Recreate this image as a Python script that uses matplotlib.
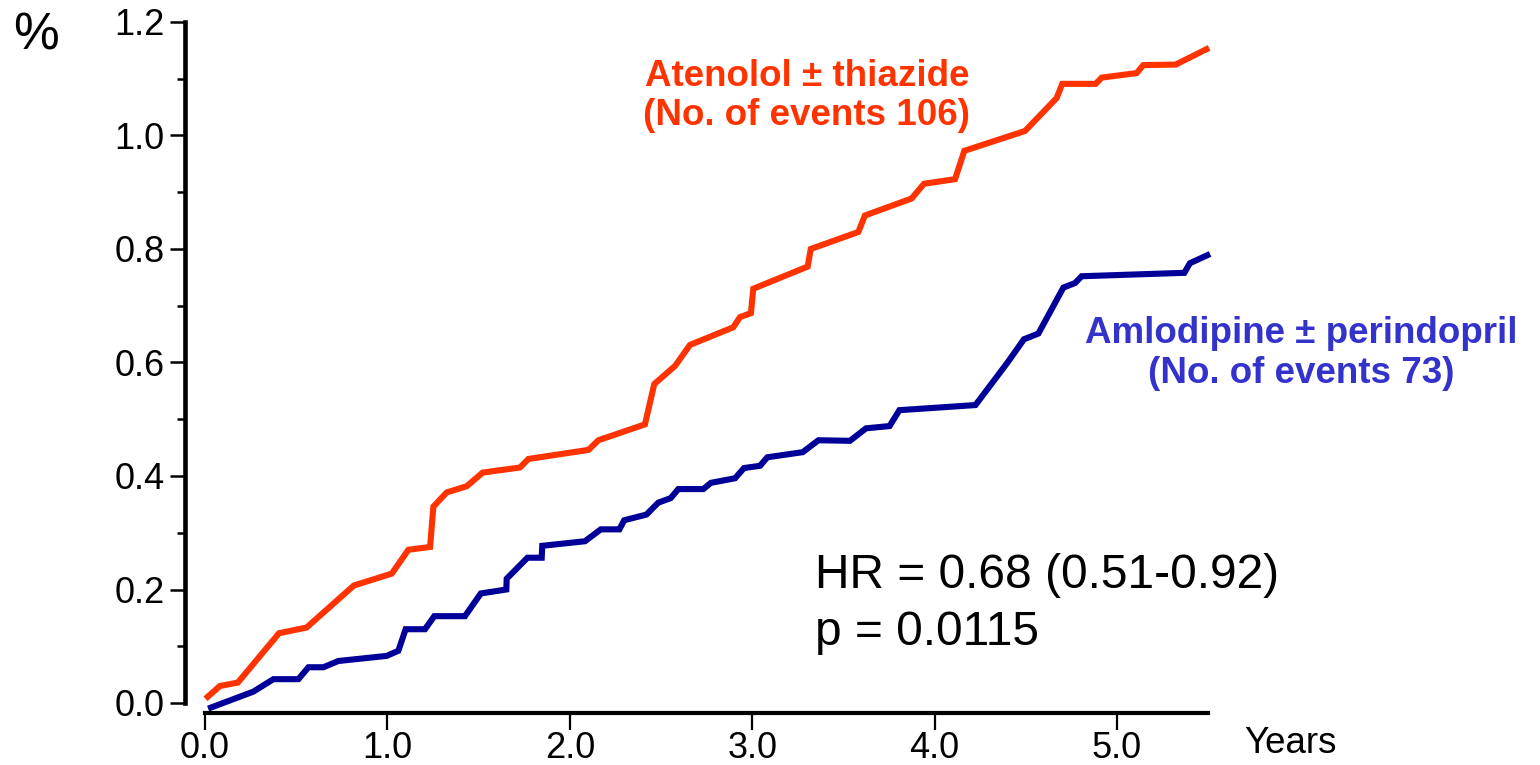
import matplotlib.pyplot as plt
from matplotlib.ticker import MultipleLocator

# cumulative incidence (%) read per treatment arm, years of follow-up
atenolol_years = [0.015, 0.082, 0.18, 0.406, 0.557, 0.816, 1.024, 1.115, 1.234, 1.252,
                  1.325, 1.435, 1.522, 1.727, 1.773, 2.102, 2.157, 2.412, 2.463, 2.577,
                  2.659, 2.896, 2.933, 2.993, 3.006, 3.304, 3.321, 3.582, 3.618, 3.874,
                  3.942, 4.112, 4.163, 4.496, 4.669, 4.70, 4.883, 4.916, 5.108, 5.144,
                  5.322, 5.49]
atenolol_pct = [0.011, 0.030, 0.036, 0.123, 0.133, 0.207, 0.228, 0.270, 0.275, 0.346,
                0.371, 0.382, 0.406, 0.415, 0.430, 0.446, 0.463, 0.491, 0.562, 0.594,
                0.631, 0.662, 0.680, 0.687, 0.730, 0.769, 0.800, 0.830, 0.859, 0.889,
                0.915, 0.923, 0.973, 1.008, 1.066, 1.091, 1.091, 1.102, 1.110, 1.124,
                1.125, 1.152]

amlodipine_years = [0.033, 0.265, 0.375, 0.512, 0.567, 0.649, 0.731, 0.996, 1.06, 1.10,
                    1.206, 1.257, 1.425, 1.512, 1.652, 1.654, 1.768, 1.846, 1.849, 2.083,
                    2.170, 2.272, 2.298, 2.420, 2.485, 2.553, 2.595, 2.732, 2.774, 2.906,
                    2.955, 3.043, 3.083, 3.277, 3.363, 3.536, 3.624, 3.753, 3.807, 4.224,
                    4.40, 4.49, 4.569, 4.706, 4.77, 4.806, 5.369, 5.40, 5.495]
amlodipine_pct = [-0.008, 0.020, 0.042, 0.042, 0.063, 0.063, 0.074, 0.083, 0.092, 0.130,
                  0.130, 0.153, 0.153, 0.193, 0.200, 0.219, 0.256, 0.256, 0.277, 0.285,
                  0.306, 0.306, 0.322, 0.332, 0.353, 0.361, 0.377, 0.377, 0.388, 0.396,
                  0.414, 0.418, 0.433, 0.442, 0.463, 0.462, 0.484, 0.488, 0.516, 0.525,
                  0.600, 0.641, 0.651, 0.732, 0.740, 0.752, 0.758, 0.775, 0.789]

x_ticks = [0.0, 1.0, 2.0, 3.0, 4.0, 5.0]
y_ticks = [0.0, 0.2, 0.4, 0.6, 0.8, 1.0, 1.2]

ORANGE = "#FF3300"
NAVY = "#000099"
BLUE_TEXT = "#3333CC"

plt.rcParams["font.family"] = ["Liberation Sans", "DejaVu Sans"]

fig = plt.figure(figsize=(15.4, 7.65), dpi=100)
ax = fig.add_axes([185 / 1540, 52 / 765, 1030 / 1540, 698 / 765])

ax.plot(atenolol_years, atenolol_pct, color=ORANGE, lw=4.4,
        solid_joinstyle="miter", clip_on=False)
ax.plot(amlodipine_years, amlodipine_pct, color=NAVY, lw=4.4,
        solid_joinstyle="miter", clip_on=False)

ax.set_xlim(-20 / 182.4, 1010 / 182.4)
ax.set_ylim(-10 / 567.5, 1.2 + 7 / 567.5)

# detached axis lines
for side in ("top", "right"):
    ax.spines[side].set_visible(False)
ax.spines["left"].set_bounds(0, 1.2)
ax.spines["bottom"].set_bounds(0, 5.5)
ax.spines["left"].set_linewidth(3.3)
ax.spines["bottom"].set_linewidth(3.0)

ax.set_xticks(x_ticks)
ax.set_xticklabels([f"{v:.1f}" for v in x_ticks])
ax.set_yticks(y_ticks)
ax.set_yticklabels([f"{v:.1f}" for v in y_ticks])
ax.yaxis.set_minor_locator(MultipleLocator(0.1))

ax.tick_params(axis="y", which="major", direction="out", length=11, width=1.8,
               labelsize=26, pad=3.5)
ax.tick_params(axis="y", which="minor", direction="out", length=6, width=1.8)
ax.tick_params(axis="x", which="major", direction="out", length=12, width=1.6,
               labelsize=26, pad=1)

ax.text(-1.05, 1.152, "%", fontsize=37, ha="left", va="baseline")
ax.text(5.70, -0.088, "Years", fontsize=26.5, ha="left", va="baseline", clip_on=False)

ax.text(3.30, 1.087, "Atenolol \u00b1 thiazide", color=ORANGE, fontsize=26.5,
        fontweight="bold", ha="center", va="baseline")
ax.text(3.30, 1.019, "(No. of events 106)", color=ORANGE, fontsize=26.5,
        fontweight="bold", ha="center", va="baseline")

ax.text(6.01, 0.634, "Amlodipine \u00b1 perindopril", color=BLUE_TEXT, fontsize=26.5,
        fontweight="bold", ha="center", va="baseline")
ax.text(6.01, 0.564, "(No. of events 73)", color=BLUE_TEXT, fontsize=26.5,
        fontweight="bold", ha="center", va="baseline")

ax.text(3.345, 0.202, "HR = 0.68 (0.51-0.92)", fontsize=34.5, ha="left", va="baseline")
ax.text(3.345, 0.102, "p = 0.0115", fontsize=34.5, ha="left", va="baseline")

fig.savefig("out.png", dpi=100)
